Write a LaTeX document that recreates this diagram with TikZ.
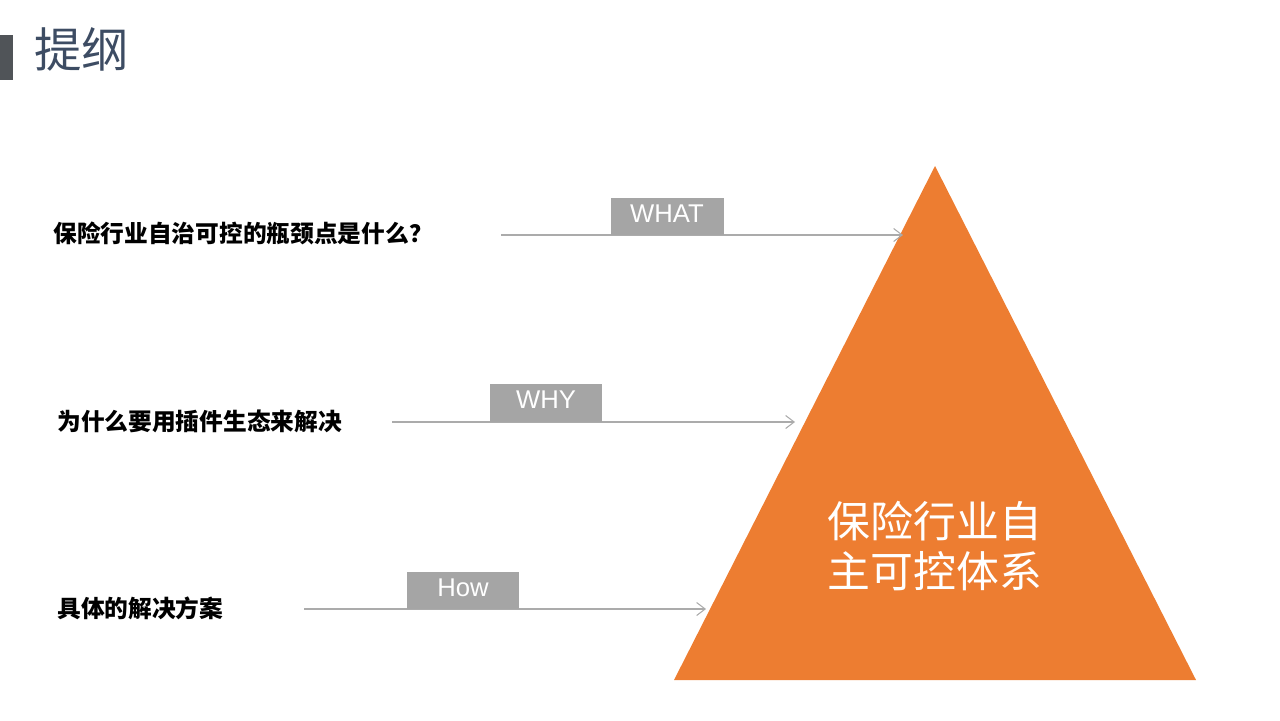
\documentclass[tikz,border=0pt]{standalone}
\usepackage{fontspec}
\usepackage{xcolor}
\usepackage{tikz}
\usetikzlibrary{arrows.meta,positioning}
\setsansfont{Liberation Sans}
\newfontfamily\cjk{Noto Sans CJK SC}
\definecolor{outlinegray}{HTML}{505458}
\definecolor{outlineblue}{HTML}{3D4C63}
\definecolor{pyramidorange}{HTML}{ED7D31}
\definecolor{taggray}{HTML}{A5A5A5}
\definecolor{linegray}{HTML}{ABABAB}

\begin{document}
\begin{tikzpicture}[
    x=0.02cm, y=-0.02cm,
    question/.style={anchor=west, inner sep=0pt, font=\cjk\bfseries\fontsize{13.5}{16}\selectfont},
    tag/.style={rectangle, fill=taggray, text=white, minimum width=2.26cm, minimum height=0.75cm, inner sep=0pt, text depth=3.4pt, font=\sffamily\fontsize{14.6}{17}\selectfont},
    arrow/.style={-{Straight Barb[length=1.7mm,width=2.6mm]}, draw=linegray, line width=0.6pt}
]
\useasboundingbox (0,0) rectangle (1280,720);

% Title
\fill[outlinegray] (0,35) rectangle (13,80);
\node[anchor=west, inner sep=0pt, text=outlineblue, font=\cjk\fontsize{27}{31}\selectfont] (title) at (34,49) {提纲};

% Pyramid
\coordinate (apex) at (935,166);
\coordinate (baseleft) at (674,680);
\coordinate (baseright) at (1196,680);
\fill[pyramidorange] (apex) -- (baseright) -- (baseleft) -- cycle;
\node[text=white, align=center, font=\cjk\fontsize{24.4}{28.5}\selectfont] (core) at (935,546) {保险行业自\\主可控体系};

% Questions
\node[question] (what) at (53,233) {保险行业自治可控的瓶颈点是什么\makebox[1em][c]{？}};
\node[question] (why) at (57,421) {为什么要用插件生态来解决};
\node[question] (how) at (57,608) {具体的解决方案};

% Arrows
\coordinate (whatstart) at (501,235);
\coordinate (whatend) at (903,235);
\coordinate (whystart) at (392,422);
\coordinate (whyend) at (795,422);
\coordinate (howstart) at (304,609);
\coordinate (howend) at (706,609);
\draw[arrow] (whatstart) -- (whatend);
\draw[arrow] (whystart) -- (whyend);
\draw[arrow] (howstart) -- (howend);

% Tags
\node[tag] (whattag) at (667,216.5) {WHAT};
\node[tag] (whytag) at (546,403) {WHY};
\node[tag] (howtag) at (463,590.5) {How};

\end{tikzpicture}
\end{document}
